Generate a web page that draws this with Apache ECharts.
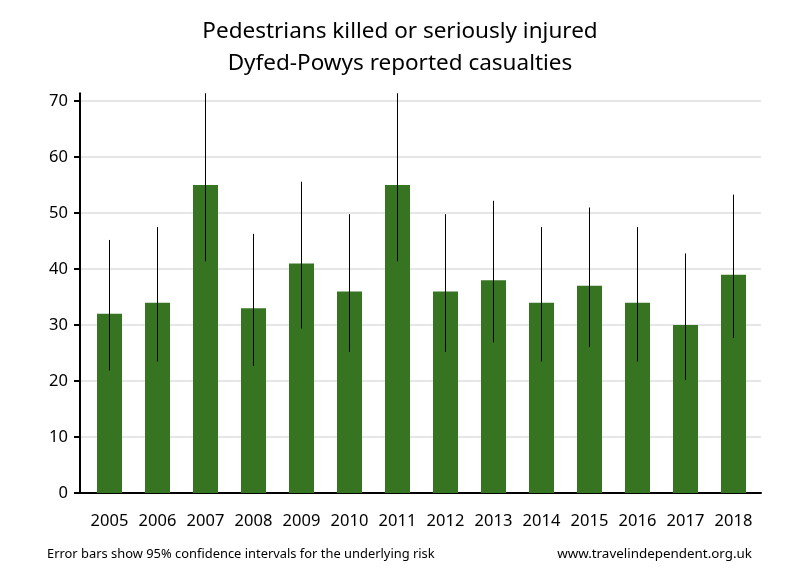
<!DOCTYPE html>
<html><head><meta charset="utf-8">
<script src="https://cdn.jsdelivr.net/npm/echarts@6/dist/echarts.min.js"></script>
<style>html,body{margin:0;padding:0;background:#fff}#c{width:800px;height:580px}</style>
</head><body><div id="c"></div>
<script>
var years = ['2005','2006','2007','2008','2009','2010','2011','2012','2013','2014','2015','2016','2017','2018'];
var casualties = [32,34,55,33,41,36,55,36,38,34,37,34,30,39];
var ciLow  = [21.9,23.5,41.4,22.7,29.4,25.2,41.4,25.2,26.9,23.5,26.1,23.5,20.2,27.7];
var ciHigh = [45.2,47.5,71.6,46.3,55.6,49.8,71.6,49.8,52.2,47.5,51.0,47.5,42.8,53.3];
var yTicks = [0,10,20,30,40,50,60,70];

var font = 'Noto Sans';
var chart = echarts.init(document.getElementById('c'), null, {renderer:'canvas'});
var idx = years.map(function(_,i){return i;});
chart.setOption({
  animation:false,
  backgroundColor:'#fff',
  title:[
    {text:'Pedestrians killed or seriously injured\nDyfed-Powys reported casualties', left:'center', top:11,
     textStyle:{fontFamily:font,fontSize:22.5,fontWeight:'normal',color:'#000',lineHeight:32}},
    {text:'Error bars show 95% confidence intervals for the underlying risk', left:42, top:543,
     textStyle:{fontFamily:font,fontSize:12.9,fontWeight:'normal',color:'#000'}},
    {text:'www.travelindependent.org.uk', right:43, top:543,
     textStyle:{fontFamily:font,fontSize:13.4,fontWeight:'normal',color:'#000'}}
  ],
  grid:{left:80, right:39, top:93.3, bottom:87, containLabel:false},
  xAxis:{type:'value', min:-0.6146, max:13.573,
    axisLine:{show:true,onZero:false,lineStyle:{color:'#000',width:2}},
    axisTick:{show:false},
    splitLine:{show:false},
    axisLabel:{customValues:idx, formatter:function(v){return years[Math.round(v)];},
      fontFamily:font,fontSize:16.5,color:'#000',margin:20}
  },
  yAxis:{type:'value', min:0, max:71.4, interval:10,
    axisLine:{show:true,onZero:false,lineStyle:{color:'#000',width:2}},
    axisTick:{show:true,length:6,lineStyle:{color:'#000',width:2},customValues:yTicks},
    splitLine:{show:true,lineStyle:{color:'#e6e6e6',width:2}},
    axisLabel:{customValues:yTicks,fontFamily:font,fontSize:16.5,color:'#000',margin:12}
  },
  series:[
    {type:'bar', data:casualties.map(function(v,i){return [i,v];}), barWidth:25,
     itemStyle:{color:'#367422'}, z:2},
    {type:'custom', z:3, clip:true,
     data:ciLow.map(function(v,i){return [i,v,ciHigh[i]];}),
     renderItem:function(params,api){
       var a=api.coord([api.value(0),api.value(1)]);
       var b=api.coord([api.value(0),api.value(2)]);
       return {type:'line', shape:{x1:a[0],y1:a[1],x2:b[0],y2:b[1]}, style:{stroke:'#000',lineWidth:1}};
     }}
  ]
});
</script></body></html>
